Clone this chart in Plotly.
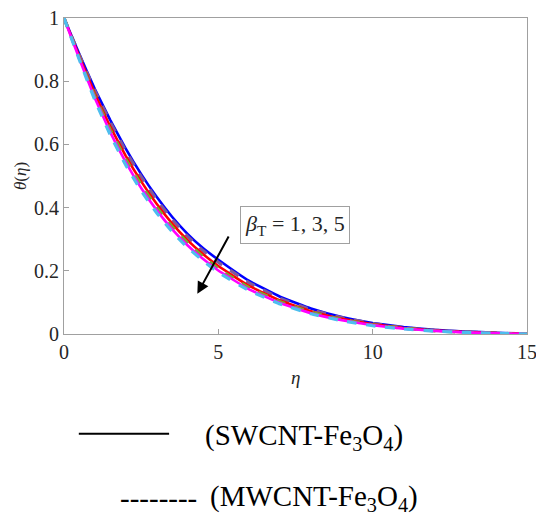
import plotly.graph_objects as go

eta = [0, 0.5, 1, 1.5, 2, 2.5, 3, 3.5, 4, 4.5, 5, 6, 7, 8, 9, 10, 11, 12, 13, 14, 15]
sw_b1 = [1.0, 0.885, 0.775, 0.677, 0.587, 0.506, 0.434, 0.371, 0.317, 0.272, 0.235, 0.168, 0.118, 0.081, 0.054, 0.035, 0.022, 0.013, 0.008, 0.004, 0.0]
sw_b3 = [1.0, 0.877, 0.760, 0.656, 0.564, 0.483, 0.412, 0.350, 0.297, 0.253, 0.215, 0.152, 0.106, 0.072, 0.048, 0.031, 0.019, 0.011, 0.006, 0.003, 0.0]
sw_b5 = [1.0, 0.870, 0.746, 0.638, 0.544, 0.462, 0.392, 0.332, 0.281, 0.238, 0.201, 0.141, 0.098, 0.066, 0.044, 0.028, 0.017, 0.010, 0.005, 0.002, 0.0]
mw_b1 = [1.0, 0.882, 0.770, 0.670, 0.579, 0.498, 0.425, 0.363, 0.309, 0.264, 0.227, 0.162, 0.113, 0.077, 0.052, 0.033, 0.020, 0.012, 0.007, 0.003, 0.0]
mw_b3 = [1.0, 0.873, 0.752, 0.646, 0.553, 0.472, 0.401, 0.340, 0.289, 0.245, 0.207, 0.146, 0.102, 0.069, 0.046, 0.029, 0.018, 0.010, 0.005, 0.002, 0.0]
mw_b5 = [1.0, 0.867, 0.740, 0.630, 0.535, 0.453, 0.384, 0.324, 0.274, 0.232, 0.195, 0.137, 0.095, 0.064, 0.042, 0.026, 0.016, 0.009, 0.005, 0.002, 0.0]

x_ticks = [0, 5, 10, 15]
x_tick_text = ["0", "5", "10", "15"]
y_ticks = [0, 0.2, 0.4, 0.6, 0.8, 1]
y_tick_text = ["0", "0.2", "0.4", "0.6", "0.8", "1"]

series = [
    (sw_b1, "#0000ff", "solid", "SWCNT β=1"),
    (mw_b1, "#7e5a9b", "dash", "MWCNT β=1"),
    (sw_b3, "#ff0000", "solid", "SWCNT β=3"),
    (mw_b3, "#77ac30", "dash", "MWCNT β=3"),
    (sw_b5, "#ff00ff", "solid", "SWCNT β=5"),
    (mw_b5, "#4dbeee", "dash", "MWCNT β=5"),
]

fig = go.Figure()
for ys, col, dash, name in series:
    fig.add_trace(go.Scatter(
        x=eta, y=ys, mode="lines", name=name,
        line=dict(color=col, width=2.6 if dash == "solid" else 3.2, dash=dash, shape="spline", smoothing=0.3),
        showlegend=False,
    ))

serif = "Liberation Serif, Times New Roman, serif"
tick_font = dict(family=serif, size=20, color="#262626")
axis_common = dict(
    showline=True, linecolor="#a0a0a0", linewidth=1, mirror=True,
    ticks="inside", ticklen=5, tickcolor="#a0a0a0",
    showgrid=False, zeroline=False, ticklabeloverflow="allow", automargin=False,
    tickfont=tick_font,
)

fig.update_layout(
    width=536, height=516,
    margin=dict(l=64, r=9, t=18, b=182),
    paper_bgcolor="white", plot_bgcolor="white",
    font=dict(family=serif, size=20, color="#262626"),
    xaxis=dict(range=[0, 15], tickvals=x_ticks, ticktext=x_tick_text, **axis_common),
    yaxis=dict(range=[0, 1], tickvals=y_ticks, ticktext=y_tick_text, **axis_common),
)
fig.update_xaxes(tickfont_family=serif, tickfont_size=20)
fig.update_yaxes(tickfont_family=serif, tickfont_size=20)

# axis titles
fig.add_annotation(
    x=0.501, y=-0.139, xref="paper", yref="paper", xanchor="center", yanchor="middle",
    text="<i>η</i>", showarrow=False, font=dict(family=serif, size=19, color="#262626"),
)
fig.add_annotation(
    x=-0.095, y=0.5, xref="paper", yref="paper", xanchor="center", yanchor="middle",
    text="<i>θ</i>(<i>η</i>)", showarrow=False, textangle=-90,
    font=dict(family=serif, size=17, color="#262626"),
)

# arrow annotation
fig.add_annotation(
    x=4.32, y=0.127, ax=5.36, ay=0.313, xref="x", yref="y", axref="x", ayref="y",
    showarrow=True, arrowhead=2, arrowsize=1.2, arrowwidth=2, arrowcolor="black", text="",
)
fig.add_annotation(
    x=0.380, y=0.3465, xref="paper", yref="paper", xanchor="left", yanchor="middle",
    text="<i>β</i><sub>T</sub> = 1, 3, 5", showarrow=False,
    font=dict(family=serif, size=22, color="#262626"),
    bordercolor="#a0a0a0", borderwidth=1, borderpad=4, bgcolor="white",
)

# bottom legend
fig.add_shape(type="line", xref="paper", yref="paper", x0=0.032, x1=0.227, y0=-0.316, y1=-0.316,
              line=dict(color="black", width=2))
fig.add_annotation(
    x=0.30, y=-0.326, xref="paper", yref="paper", xanchor="left", yanchor="middle",
    text="(SWCNT-Fe<sub>3</sub>O<sub>4</sub>)", showarrow=False,
    font=dict(family=serif, size=29, color="black"),
)
fig.add_annotation(
    x=0.117, y=-0.519, xref="paper", yref="paper", xanchor="left", yanchor="middle",
    text="--------", showarrow=False,
    font=dict(family=serif, size=29, color="black"),
)
fig.add_annotation(
    x=0.311, y=-0.519, xref="paper", yref="paper", xanchor="left", yanchor="middle",
    text="(MWCNT-Fe<sub>3</sub>O<sub>4</sub>)", showarrow=False,
    font=dict(family=serif, size=29, color="black"),
)

fig.write_html("out.html")
